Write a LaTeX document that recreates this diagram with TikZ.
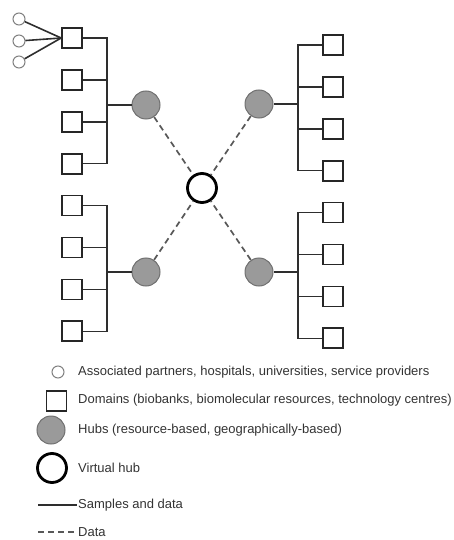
\documentclass[tikz,border=0pt]{standalone}
\usepackage{fontspec}
\setmainfont{Liberation Sans}
\usepackage{tikz}
\usetikzlibrary{positioning}

\definecolor{hubgray}{HTML}{9A9A9A}
\definecolor{hubedge}{HTML}{707070}
\definecolor{linegray}{HTML}{2E2E2E}

\begin{document}
\begin{tikzpicture}[x=1pt,y=-1pt,-,node distance=41.9pt,
                    domain node/.style={rectangle,draw=black!85,line width=1.7pt,minimum size=20pt,inner sep=0pt},
                    partner node/.style={circle,draw=gray,line width=1pt,minimum size=12pt,inner sep=0pt},
                    hub node/.style={circle,draw=hubedge,fill=hubgray,line width=1pt,minimum size=28pt,inner sep=0pt},
                    virtual node/.style={circle,draw=black,fill=white,line width=2.8pt,minimum size=29pt,inner sep=0pt},
                    solid link/.style={draw=linegray,line width=1.6pt},
                    data link/.style={draw=linegray!80,line width=1.7pt,dash pattern=on 6pt off 4pt},
                    legend text/.style={anchor=west,inner sep=0pt,font=\fontsize{13}{15}\selectfont,text=black!80}]

  \useasboundingbox (0,0) rectangle (453,540);

  % domains, left side
  \node[domain node] (1) at (72,38) {};
  \node[domain node] (2) [below of=1] {};
  \node[domain node] (3) [below of=2] {};
  \node[domain node] (4) [below of=3] {};
  \node[domain node] (5) [below of=4] {};
  \node[domain node] (6) [below of=5] {};
  \node[domain node] (7) [below of=6] {};
  \node[domain node] (8) [below of=7] {};

  % domains, right side
  \node[domain node] (9) at (333,45) {};
  \node[domain node] (10) [below of=9] {};
  \node[domain node] (11) [below of=10] {};
  \node[domain node] (12) [below of=11] {};
  \node[domain node] (13) [below of=12] {};
  \node[domain node] (14) [below of=13] {};
  \node[domain node] (15) [below of=14] {};
  \node[domain node] (16) [below of=15] {};

  % associated partners
  \node[partner node] (a) at (19,19) {};
  \node[partner node] (b) at (19,41) {};
  \node[partner node] (c) at (19,62) {};

  % hubs
  \node[hub node] (h1) at (146,105) {};
  \node[hub node] (h2) at (146,272) {};
  \node[hub node] (h3) at (259,104) {};
  \node[hub node] (h4) at (259,272) {};
  \node[virtual node] (v) at (202,188) {};

  \coordinate (b1) at (107,105);
  \coordinate (b2) at (107,272);
  \coordinate (b3) at (298,104);
  \coordinate (b4) at (298,272);

  \path[solid link]
    (a) edge (1.west)
    (b) edge (1.west)
    (c) edge (1.west)
    (b1) edge (h1)
    (b2) edge (h2)
    (b3) edge (h3)
    (b4) edge (h4);

  \draw[solid link] (1.east) -| (b1) (2.east) -| (b1) (3.east) -| (b1) (4.east) -| (b1);
  \draw[solid link] (5.east) -| (b2) (6.east) -| (b2) (7.east) -| (b2) (8.east) -| (b2);
  \draw[solid link] (9.west) -| (b3) (10.west) -| (b3) (11.west) -| (b3) (12.west) -| (b3);
  \draw[solid link] (13.west) -| (b4) (14.west) -| (b4) (15.west) -| (b4) (16.west) -| (b4);

  \path[data link]
    (h1) edge (v)
    (h2) edge (v)
    (h3) edge (v)
    (h4) edge (v);

  % legend
  \node[partner node] (l1) at (58,372) {};
  \node[domain node] (l2) at (56.5,401) {};
  \node[hub node] (l3) at (51,430) {};
  \node[virtual node] (l4) at (52,468) {};
  \coordinate (l5a) at (38,505);
  \coordinate (l5b) at (77,505);
  \coordinate (l6a) at (38,532);
  \coordinate (l6b) at (77,532);
  \path[solid link] (l5a) edge (l5b);
  \path[data link] (l6a) edge (l6b);

  \node[legend text] (t1) at (78,372) {Associated partners, hospitals, universities, service providers};
  \node[legend text] (t2) at (78,400) {Domains (biobanks, biomolecular resources, technology centres)};
  \node[legend text] (t3) at (78,430) {Hubs (resource-based, geographically-based)};
  \node[legend text] (t4) at (78,468) {Virtual hub};
  \node[legend text] (t5) at (78,505) {Samples and data};
  \node[legend text] (t6) at (78,532) {Data};
\end{tikzpicture}
\end{document}
